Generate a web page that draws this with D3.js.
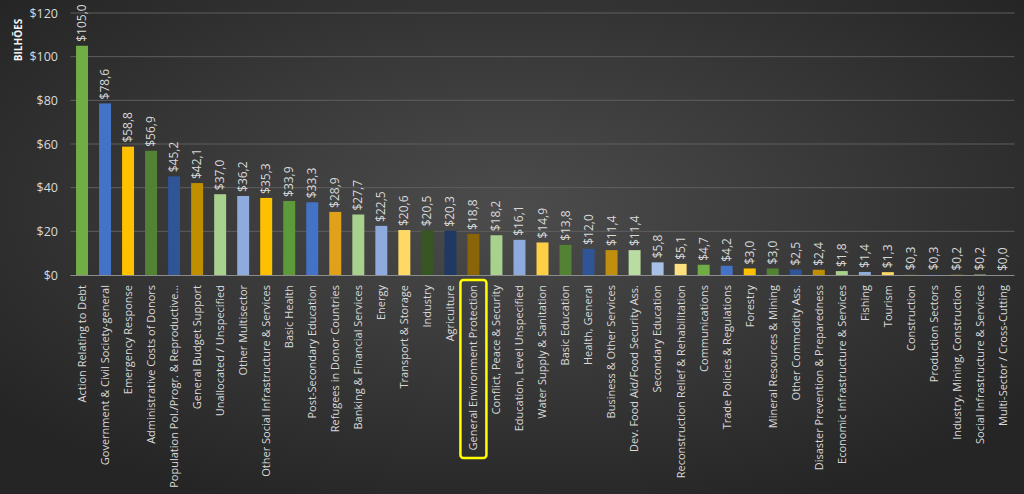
<!DOCTYPE html>
<html><head><meta charset="utf-8">
<script src="https://cdn.jsdelivr.net/npm/d3@7"></script>
<style>html,body{margin:0;padding:0;background:#333;}svg{display:block;}</style>
</head><body>
<svg id="c" width="1024" height="494"></svg>
<script>
const categories = ["Action Relating to Debt","Government & Civil Society-general","Emergency Response","Administrative Costs of Donors","Population Pol./Progr. & Reproductive…","General Budget Support","Unallocated / Unspecified","Other Multisector","Other Social Infrastructure & Services","Basic Health","Post-Secondary Education","Refugees in Donor Countries","Banking & Financial Services","Energy","Transport & Storage","Industry","Agriculture","General Environment Protection","Conflict, Peace & Security","Education, Level Unspecified","Water Supply & Sanitation","Basic Education","Health, General","Business & Other Services","Dev. Food Aid/Food Security Ass.","Secondary Education","Reconstruction Relief & Rehabilitation","Communications","Trade Policies & Regulations","Forestry","Mineral Resources & Mining","Other Commodity Ass.","Disaster Prevention & Preparedness","Economic Infrastructure & Services","Fishing","Tourism","Construction","Production Sectors","Industry, Mining, Construction","Social Infrastructure & Services","Multi-Sector / Cross-Cutting"];
const values = [105.0,78.6,58.8,56.9,45.2,42.1,37.0,36.2,35.3,33.9,33.3,28.9,27.7,22.5,20.6,20.5,20.3,18.8,18.2,16.1,14.9,13.8,12.0,11.4,11.4,5.8,5.1,4.7,4.2,3.0,3.0,2.5,2.4,1.8,1.4,1.3,0.3,0.3,0.2,0.2,0.0];
const barColors = ["#70ad47","#4472c4","#ffc000","#548235","#2f5597","#bf8f00","#a9d18e","#8faadc","#ffc000","#5c9a3a","#4472c4","#e0a21a","#a9d18e","#8faadc","#ffd966","#375623","#203864","#8a6408","#a9d18e","#8faadc","#ffd045","#548235","#2f5597","#c08f10","#b9dca2","#a8bfe6","#ffe080","#70ad47","#4472c4","#ffc000","#548235","#2f5597","#bf8f00","#a9d18e","#8faadc","#ffd966","#375623","#203864","#7f6000","#a9d18e","#8faadc"];
const yTicks = [0,20,40,60,80,100,120];
const highlight = "General Environment Protection";
const yTitle = "BILHÕES";

const svg = d3.select("#c");
const W = 1024, H = 494;
const defs = svg.append("defs");
const rg = defs.append("radialGradient").attr("id","bg").attr("cx","50%").attr("cy","42%").attr("r","65%");
rg.append("stop").attr("offset","0%").attr("stop-color","#4c4c4c");
rg.append("stop").attr("offset","100%").attr("stop-color","#252525");
svg.append("rect").attr("width",W).attr("height",H).attr("fill","url(#bg)");

const m = {l:70.5, r:9.5, t:13, b:219};
const x = d3.scaleBand().domain(categories).range([m.l, W-m.r]).paddingInner(0.48).paddingOuter(0.24);
const y = d3.scaleLinear().domain([0,120]).range([275, 13]);

// gridlines
svg.append("g").selectAll("line").data(yTicks.filter(d=>d>0)).join("line")
  .attr("x1", m.l).attr("x2", W-m.r).attr("y1", d=>y(d)).attr("y2", d=>y(d))
  .attr("stroke","#5e5e5e").attr("stroke-width",1);

// y axis
const yAxis = d3.axisLeft(y).tickValues(yTicks).tickSize(0).tickPadding(0)
  .tickFormat(d=>"$"+d);
const ga = svg.append("g").attr("transform",`translate(58,0)`).call(yAxis);
ga.select(".domain").remove();
ga.selectAll("text").attr("fill","#d9d9d9").style("font-family","'Open Sans', sans-serif").style("font-size","12.5px");

svg.append("text").attr("transform","translate(22,40) rotate(-90)").attr("text-anchor","middle")
  .attr("fill","#f2f2f2").style("font-family","'Open Sans', sans-serif").style("font-size","10px").style("font-weight","bold").text(yTitle);

// bars
svg.append("g").selectAll("rect").data(values).join("rect")
  .attr("x",(d,i)=>x(categories[i])).attr("width",x.bandwidth())
  .attr("y",d=>y(d)).attr("height",d=>y(0)-y(d))
  .attr("fill",(d,i)=>barColors[i]);

// x axis line
svg.append("line").attr("x1",m.l).attr("x2",W-m.r).attr("y1",y(0)+0.5).attr("y2",y(0)+0.5).attr("stroke","#8c8c8c").attr("stroke-width",1);

// value labels
const fmt = v => "$" + v.toFixed(1).replace(".",",");
svg.append("g").selectAll("text").data(values).join("text")
  .attr("transform",(d,i)=>`translate(${x(categories[i])+x.bandwidth()/2+4},${y(d)-4}) rotate(-90)`)
  .attr("fill","#d9d9d9").style("font-family","'Open Sans', sans-serif").style("font-size","12px")
  .text(d=>fmt(d));

// category labels
const xa = svg.append("g").attr("transform",`translate(0,${y(0)})`)
  .call(d3.axisBottom(x).tickSize(0).tickPadding(0));
xa.select(".domain").remove();
xa.selectAll("text").attr("fill","#d9d9d9").style("font-family","'Open Sans', sans-serif").style("font-size","11px")
  .attr("text-anchor","end").attr("dy","0.35em")
  .attr("transform","translate(0,10) rotate(-90)").attr("x",0).attr("y",0);

// highlight box
const hx = x(highlight)+x.bandwidth()/2;
svg.append("rect").attr("x",hx-13).attr("y",280).attr("width",26).attr("height",178).attr("rx",3)
  .attr("fill","none").attr("stroke","#ffff00").attr("stroke-width",2.5);
</script>
</body></html>
